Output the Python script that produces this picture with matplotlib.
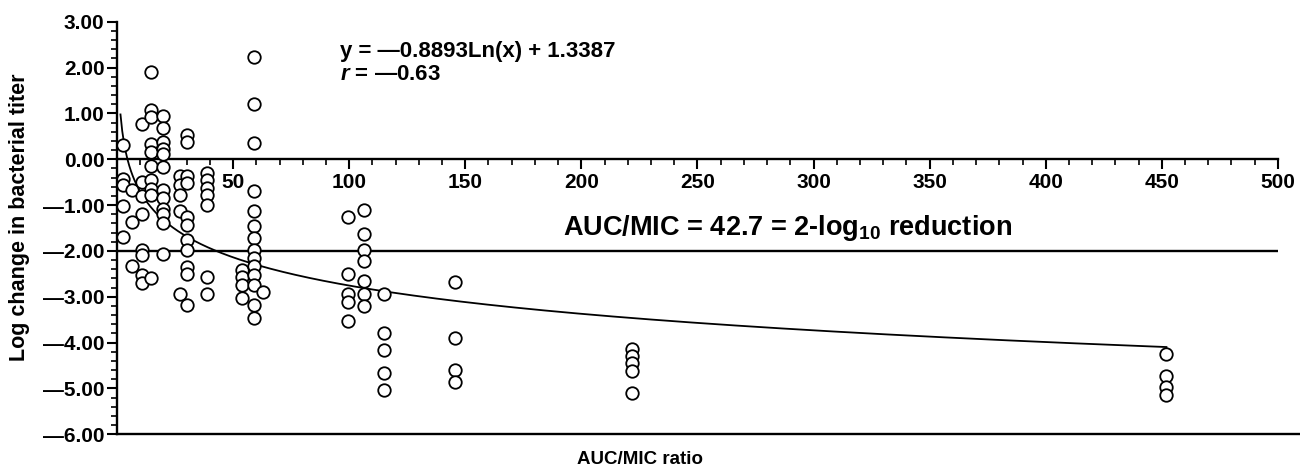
import matplotlib
matplotlib.use("Agg")
import matplotlib.pyplot as plt
from matplotlib.ticker import MultipleLocator, FixedLocator, FuncFormatter
import numpy as np

plt.rcParams['font.family'] = ['Liberation Sans', 'DejaVu Sans']
plt.rcParams['font.weight'] = 'bold'
plt.rcParams['mathtext.fontset'] = 'custom'
plt.rcParams['mathtext.rm'] = 'Liberation Sans:bold'
plt.rcParams['mathtext.it'] = 'Liberation Sans:italic:bold'
plt.rcParams['mathtext.bf'] = 'Liberation Sans:bold'

# AUC/MIC ratio of each group of animals and the log change in titer seen
auc_mic = [2.5, 6.3, 10.6, 14.6, 20, 27, 30, 38.8, 54, 59, 63,
           99.5, 106.5, 115, 145.5, 222, 452]
log_change = [
    [0.32, -0.42, -0.57, -1.03, -1.70],
    [-0.68, -1.37, -2.34],
    [0.78, -0.50, -0.81, -1.20, -1.97, -2.10, -2.52, -2.70],
    [1.91, 1.07, 0.93, 0.33, 0.16, -0.15, -0.46, -0.64, -0.79, -2.59],
    [0.94, 0.68, 0.38, 0.23, 0.11, -0.17, -0.68, -0.84, -1.08, -1.19, -1.40, -2.07],
    [-0.36, -0.57, -0.78, -1.13, -2.93],
    [0.52, 0.38, -0.36, -0.52, -1.26, -1.44, -1.77, -1.99, -2.35, -2.50, -3.19],
    [-0.31, -0.46, -0.62, -0.78, -1.00, -2.58, -2.93],
    [-2.42, -2.57, -2.75, -3.02],
    [2.23, 1.21, 0.36, -0.69, -1.13, -1.45, -1.71, -1.97, -2.15, -2.32, -2.52, -2.74, -3.19, -3.46],
    [-2.90],
    [-1.27, -2.50, -2.93, -3.12, -3.54],
    [-1.11, -1.64, -1.97, -2.22, -2.66, -2.93, -3.20],
    [-2.93, -3.79, -4.17, -4.67, -5.03],
    [-2.67, -3.89, -4.59, -4.86],
    [-4.15, -4.30, -4.45, -4.62, -5.10],
    [-4.26, -4.73, -4.97, -5.15],
]

# fitted curve y = a*ln(x) + b
slope = -0.8893
intercept = 1.3387
threshold = -2.0

fig = plt.figure(figsize=(13, 4.74), dpi=100)
ax = fig.add_axes([0.09, 0.084, 0.893, 0.87])

xs, ys = [], []
for x, vals in zip(auc_mic, log_change):
    xs += [x] * len(vals)
    ys += vals
ax.plot(xs, ys, 'o', mfc='white', mec='black', mew=1.3, ms=9, zorder=3,
        clip_on=False)

fit_x = np.linspace(1.5, 452, 600)
ax.plot(fit_x, slope * np.log(fit_x) + intercept, color='black', lw=1.3, zorder=2)

ax.axhline(threshold, color='black', lw=1.7, zorder=1)
ax.axhline(-6, xmin=0, xmax=1.02, color='black', lw=1.7, clip_on=False)

ax.set_xlim(0, 500)
ax.set_ylim(-6, 3)

for s in ['top', 'right']:
    ax.spines[s].set_visible(False)
ax.spines['bottom'].set_position(('data', 0))
ax.spines['bottom'].set_linewidth(1.7)
ax.spines['left'].set_linewidth(1.7)

ax.xaxis.set_major_locator(FixedLocator(np.arange(50, 501, 50)))
ax.xaxis.set_minor_locator(MultipleLocator(10))
ax.yaxis.set_major_locator(MultipleLocator(1))
ax.yaxis.set_minor_locator(MultipleLocator(0.2))
ax.tick_params(axis='both', which='major', direction='out', length=7, width=1.5,
               labelsize=15)
ax.tick_params(axis='both', which='minor', direction='out', length=4, width=1.2)
ax.tick_params(axis='x', pad=3)
ax.tick_params(axis='y', pad=2)
ax.xaxis.set_major_formatter(FuncFormatter(lambda v, p: '%d' % v))
ax.yaxis.set_major_formatter(FuncFormatter(
    lambda v, p: ('\u2014%.2f' % abs(v)) if v < 0 else '%.2f' % v))

ax.text(96, 2.36, 'y = \u20140.8893Ln(x) + 1.3387', fontsize=16,
        fontweight='bold', ha='left', va='center')
ax.text(96, 1.86, '$\\it{r}$ = \u20140.63', fontsize=16,
        fontweight='bold', ha='left', va='center')
ax.text(192, -1.5, 'AUC/MIC = 42.7 = 2-log$_{10}$ reduction', fontsize=19.5,
        fontweight='bold', ha='left', va='center')

fig.text(20 / 1300, 1 - 217 / 474, 'Log change in bacterial titer',
         rotation=90, ha='center', va='center', fontsize=15.5, fontweight='bold')
fig.text(640 / 1300, 1 - 460 / 474, 'AUC/MIC ratio', ha='center', va='center',
         fontsize=13.5, fontweight='bold')

fig.savefig('out.png', dpi=100)
